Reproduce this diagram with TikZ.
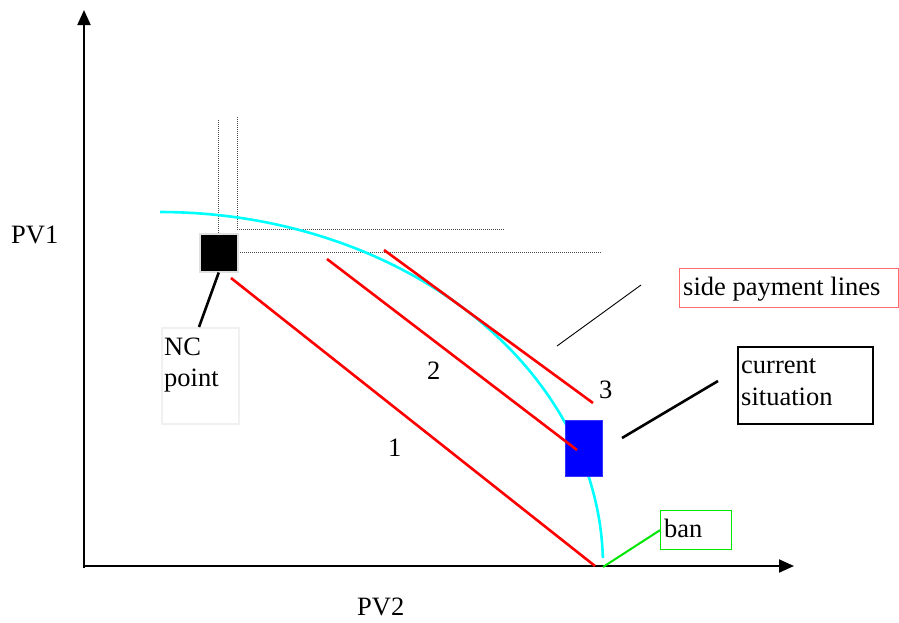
\documentclass[tikz,border=0pt]{standalone}
\usepackage{fontspec}
\setmainfont{Liberation Serif}
\usetikzlibrary{arrows.meta}
\definecolor{aqua}{RGB}{0,255,255}
\definecolor{pured}{RGB}{255,0,0}
\definecolor{puregreen}{RGB}{0,230,0}
\definecolor{pureblue}{RGB}{0,0,255}
\definecolor{lightred}{RGB}{255,110,110}
\begin{document}
\begin{tikzpicture}[x=1pt,y=-1pt,
  every node/.style={font=\fontsize{26.5}{31}\selectfont},
  axisline/.style={line width=2pt,-{Triangle[length=15pt,width=13pt]}},
  redline/.style={pured,line width=2.6pt},
  guide/.style={black!70,line width=0.9pt,dash pattern=on 1pt off 1pt},
  box/.style={draw,rectangle,inner sep=0pt,anchor=north west},
  lbl/.style={anchor=base west,inner sep=0pt},
  conn/.style={line width=2.6pt}
]
\useasboundingbox (0,0) rectangle (899,622);
% axes
\coordinate (O) at (84,566);
\coordinate (ytop) at (84,10);
\coordinate (xend) at (794,566);
\draw[axisline] (84,568) -- (ytop);
\draw[axisline] (O) -- (xend);
\node[lbl] (pv1) at (11,243) {PV1};
\node[lbl] (pv2) at (357,615) {PV2};
% dotted guides
\draw[guide] (218,120) -- (218,233);
\draw[guide] (237,117) -- (237,229) -- (504,229);
\draw[guide] (238,252) -- (602,252);
% aqua frontier (quarter ellipse)
\draw[aqua,line width=2.6pt] plot[domain=90:1.3,samples=80,smooth] ({160+443*cos(\x)},{566-354*sin(\x)});
% red side payment lines
\coordinate (r1a) at (231,278); \coordinate (r1b) at (595,566);
\coordinate (r2a) at (327,259); \coordinate (r2b) at (577,450);
\coordinate (r3a) at (384,250); \coordinate (r3b) at (593,403);
\draw[redline] (r1a) -- (r1b);
\draw[redline] (r3a) -- (r3b);
\node[lbl] (n1) at (388,456) {1};
\node[lbl] (n2) at (427,379) {2};
\node[lbl] (n3) at (599,398) {3};
% blue current point (on top of frontier)
\node[box,fill=pureblue,draw=pureblue!80,line width=1pt,minimum width=37pt,minimum height=56pt] (cur) at (565,420) {};
\draw[redline] (r2a) -- (r2b);
% NC point
\node[box,fill=black,draw=black!12,line width=1.5pt,minimum width=38pt,minimum height=38pt] (nc) at (199,233) {};
\node[box,draw=black!6,line width=1.5pt,minimum width=77pt,minimum height=96pt] (ncbox) at (161,327) {};
\node[lbl] (nct1) at (164,355) {NC};
\node[lbl] (nct2) at (164,386) {point};
\draw[conn] (nc.south) -- (199,327);
% side payment lines label
\node[box,draw=lightred,line width=1pt,minimum width=219pt,minimum height=39pt] (spbox) at (679,268) {};
\node[lbl] (spt) at (683,295) {side payment lines};
\coordinate (spa) at (557,346);
\coordinate (spb) at (641,285);
\draw[line width=0.9pt] (spa) -- (spb);
% current situation
\node[box,draw=black,line width=2.2pt,minimum width=135pt,minimum height=77pt] (csbox) at (737,346) {};
\node[lbl] (cst1) at (741,373) {current};
\node[lbl] (cst2) at (741,405) {situation};
\coordinate (csa) at (622,438);
\coordinate (csb) at (718,381);
\draw[conn] (csa) -- (csb);
% ban
\node[box,draw=puregreen,line width=1.3pt,minimum width=71pt,minimum height=39pt] (banbox) at (660,510) {};
\node[lbl] (bant) at (664,537) {ban};
\draw[puregreen,line width=2pt] (603,567) -- (banbox.west);
\end{tikzpicture}
\end{document}
